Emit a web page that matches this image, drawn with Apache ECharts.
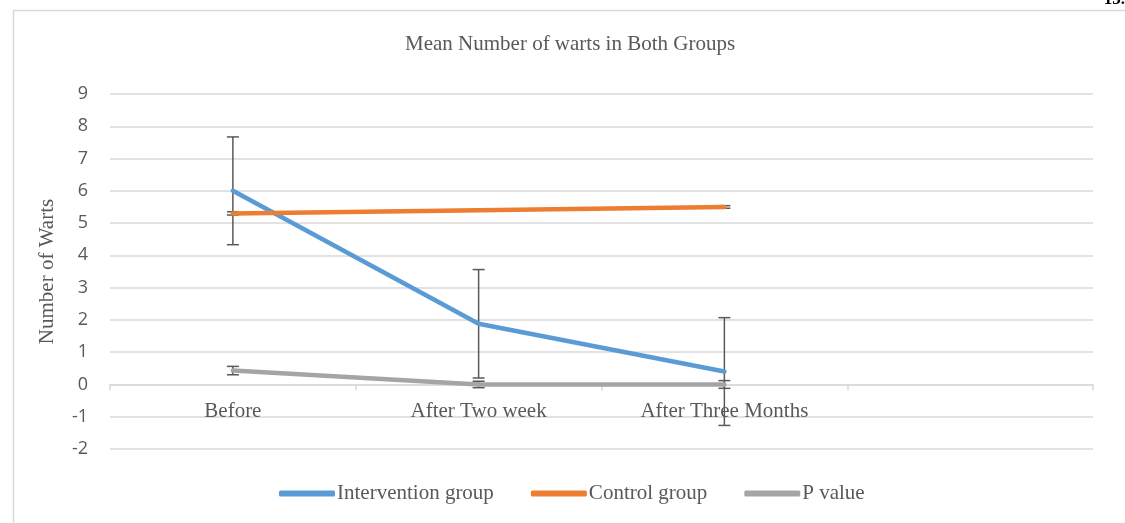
<!DOCTYPE html>
<html>
<head>
<meta charset="utf-8">
<script src="https://cdn.jsdelivr.net/npm/echarts@6/dist/echarts.min.js"></script>
<style>
  html, body { margin: 0; padding: 0; background: #fff; }
  #chart-container { width: 1125px; height: 523px; }
</style>
</head>
<body>
<div id="chart-container"></div>
<script>
// 数据
var categories = ['Before', 'After Two week', 'After Three Months', ''];
var seriesNames = ['Intervention group', 'Control group', 'P value'];
var interventionValues = [6.0, 1.88, 0.4];
var controlValues = [5.3, 5.4, 5.5];
var pValues = [0.43, 0.0, 0.0];
// 误差线 (±)
var interventionErrors = [1.67, 1.68, 1.67];
var controlErrors = [0.05, 0.03, 0.04];
var pErrors = [0.13, 0.1, 0.12];
var yTicks = { min: -2, max: 9, interval: 1 };

var colors = ['#5B9BD5', '#ED7D31', '#A5A5A5'];
var textColor = '#595959';
var serif = '"Liberation Serif", "Times New Roman", serif';

var container = document.getElementById('chart-container');
var myChart = echarts.init(container);

// 网格尺寸
var gridTop = 94, gridBottom = 74;
var gridHeight = 523 - gridTop - gridBottom;
// x 轴放在 y=0 处（标签一起移动）
var xAxisOffset = -gridHeight * (0 - yTicks.min) / (yTicks.max - yTicks.min);

function errorData(values, errors) {
    return values.map(function (v, i) {
        return [i, v - errors[i], v + errors[i]];
    });
}

function renderErrorBar(params, api) {
    var x = api.value(0);
    var low = api.coord([x, api.value(1)]);
    var high = api.coord([x, api.value(2)]);
    var half = 6;
    var style = { stroke: '#595959', lineWidth: 1.5 };
    return {
        type: 'group',
        children: [
            { type: 'line', shape: { x1: low[0], y1: low[1], x2: high[0], y2: high[1] }, style: style },
            { type: 'line', shape: { x1: low[0] - half, y1: low[1], x2: low[0] + half, y2: low[1] }, style: style },
            { type: 'line', shape: { x1: high[0] - half, y1: high[1], x2: high[0] + half, y2: high[1] }, style: style }
        ]
    };
}

function lineSeries(name, data, color) {
    return {
        name: name,
        type: 'line',
        data: data,
        showSymbol: false,
        symbol: 'none',
        z: 3,
        itemStyle: { color: color },
        lineStyle: { color: color, width: 4.5, cap: 'round' }
    };
}

function errorSeries(values, errors) {
    return {
        type: 'custom',
        data: errorData(values, errors),
        renderItem: renderErrorBar,
        encode: { x: 0, y: [1, 2] },
        z: 2,
        silent: true
    };
}

var option = {
    animation: false,
    color: colors,
    graphic: [
        {
            type: 'rect',
            left: 11, top: 8,
            shape: { width: 1130, height: 530 },
            style: { fill: 'none', stroke: '#d9d9d9', lineWidth: 1.5 },
            silent: true
        },
        {
            type: 'text',
            right: 0, top: -9,
            style: { text: '15.', fill: '#000', font: 'bold 17px "Liberation Serif", serif' }
        }
    ],
    title: {
        text: 'Mean Number of warts in Both Groups',
        left: 400,
        top: 29,
        textStyle: {
            color: textColor,
            fontFamily: serif,
            fontWeight: 'normal',
            fontSize: 21
        }
    },
    legend: {
        data: seriesNames,
        bottom: 19,
        left: 279,
        padding: 0,
        icon: 'roundRect',
        itemWidth: 56,
        itemHeight: 6,
        itemGap: 37,
        textStyle: {
            color: textColor,
            fontFamily: serif,
            fontSize: 21,
            padding: [0, 0, 0, -3]
        }
    },
    grid: {
        left: 110,
        right: 32,
        top: gridTop,
        bottom: gridBottom,
        containLabel: false
    },
    xAxis: {
        type: 'category',
        data: categories,
        boundaryGap: true,
        position: 'bottom',
        offset: xAxisOffset,
        axisLine: { onZero: false, lineStyle: { color: '#d9d9d9', width: 1.5 } },
        axisTick: { show: true, length: 6, lineStyle: { color: '#d9d9d9', width: 1.5 } },
        axisLabel: {
            color: textColor,
            fontFamily: serif,
            fontSize: 21,
            margin: 17
        },
        splitLine: { show: false }
    },
    yAxis: {
        type: 'value',
        min: yTicks.min,
        max: yTicks.max,
        interval: yTicks.interval,
        name: 'Number of Warts',
        nameLocation: 'middle',
        nameGap: 52,
        nameTextStyle: {
            color: textColor,
            fontFamily: serif,
            fontSize: 21
        },
        axisLine: { show: false },
        axisTick: { show: false },
        axisLabel: {
            color: textColor,
            fontFamily: '"Open Sans", "Noto Sans", sans-serif',
            fontSize: 18,
            margin: 22
        },
        splitLine: { lineStyle: { color: '#d9d9d9', width: 1.5 } }
    },
    series: [
        errorSeries(interventionValues, interventionErrors),
        errorSeries(controlValues, controlErrors),
        errorSeries(pValues, pErrors),
        lineSeries(seriesNames[0], interventionValues, colors[0]),
        lineSeries(seriesNames[1], controlValues, colors[1]),
        lineSeries(seriesNames[2], pValues, colors[2])
    ]
};

myChart.setOption(option);
</script>
</body>
</html>
